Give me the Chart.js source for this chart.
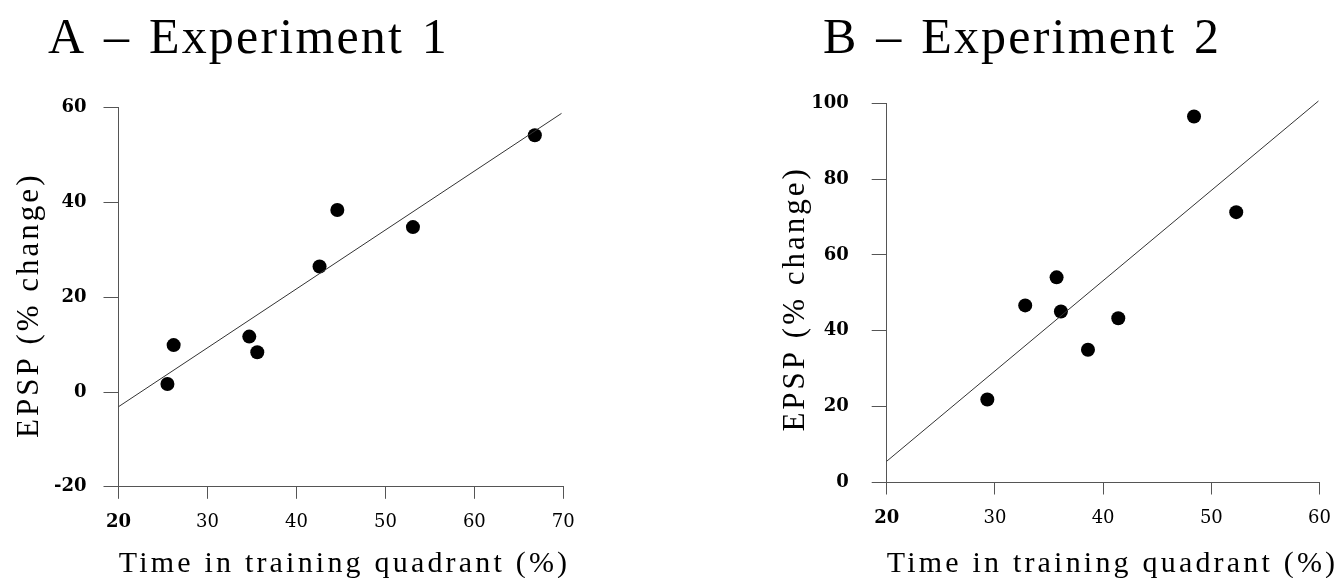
<!DOCTYPE html>
<html>
<head>
<meta charset="utf-8">
<script src="https://cdn.jsdelivr.net/npm/chart.js@4.4.1/dist/chart.umd.min.js"></script>
<style>
  body { margin: 0; background: #fff; }
  .panel { position: absolute; top: 0; width: 672px; height: 578px; }
  #panelA { left: 0; }
  #panelB { left: 672px; }
</style>
</head>
<body>
<div class="panel" id="panelA"><canvas id="chartA"></canvas></div>
<div class="panel" id="panelB"><canvas id="chartB"></canvas></div>
<script>
// Experiment 1 - time in training quadrant (%) vs EPSP (% change)
const timeA = [25.5, 26.2, 34.7, 35.6, 42.6, 44.6, 53.1, 66.8];
const epspA = [1.7, 9.9, 11.7, 8.4, 26.5, 38.4, 34.8, 54.2];
const fitXA = [20, 69.8];
const fitYA = [-3.1, 58.8];

// Experiment 2
const timeB = [29.3, 32.8, 35.7, 36.1, 38.6, 41.4, 48.4, 52.3];
const epspB = [21.9, 46.7, 54.1, 45.1, 35.0, 43.3, 96.5, 71.3];
const fitXB = [20, 59.9];
const fitYB = [5.6, 100.6];

const xLabel = "Time in training quadrant (%)";
const yLabel = "EPSP (% change)";

const serif = '"Liberation Serif", "Times New Roman", serif';
const axisColor = "#555";

function toPoints(xs, ys) {
    return xs.map(function(x, i) { return { x: x, y: ys[i] }; });
}

// Titles are drawn by hand so letter spacing can match the scan
const panelText = {
    id: "panelText",
    afterDraw: function(chart, args, o) {
        const ctx = chart.ctx;
        const area = chart.chartArea;
        ctx.save();
        ctx.fillStyle = "#000";
        ctx.textBaseline = "alphabetic";

        // panel title
        ctx.font = "50px " + serif;
        ctx.letterSpacing = "2.2px";
        ctx.wordSpacing = "3px";
        ctx.textAlign = "left";
        ctx.fillText(o.title, o.titleX, 53);

        // x axis title
        ctx.font = "30px " + serif;
        ctx.letterSpacing = "3.2px";
        ctx.wordSpacing = "0px";
        ctx.textAlign = "center";
        ctx.fillText(xLabel, o.xTitleX, 572);

        // y axis title, rotated
        ctx.translate(o.yTitleX, (area.top + area.bottom) / 2 + o.yTitleShift);
        ctx.rotate(-Math.PI / 2);
        ctx.font = "31px " + serif;
        ctx.letterSpacing = "3px";
        ctx.fillText(yLabel, 0, 0);
        ctx.restore();
    }
};

function makeChart(id, cfg) {
    const ctx = document.getElementById(id).getContext("2d");
    return new Chart(ctx, {
        type: "scatter",
        data: {
            datasets: [
                {
                    type: "line",
                    data: toPoints(cfg.fitX, cfg.fitY),
                    borderColor: "#333",
                    borderWidth: 1,
                    pointRadius: 0,
                    clip: false,
                },
                {
                    data: toPoints(cfg.xs, cfg.ys),
                    backgroundColor: "#000",
                    borderWidth: 0,
                    pointRadius: 7,
                },
            ],
        },
        options: {
            responsive: true,
            maintainAspectRatio: false,
            animation: false,
            layout: { padding: { left: 0, top: cfg.top, right: cfg.right, bottom: 0 } },
            plugins: {
                legend: { display: false },
                tooltip: { enabled: false },
                panelText: cfg.text,
            },
            scales: {
                x: {
                    min: cfg.xMin, max: cfg.xMax,
                    ticks: {
                        stepSize: 10,
                        color: "#000",
                        padding: 13,
                        font: function(c) {
                            // the first label is printed heavier in the original
                            const first = c.tick && c.tick.value === cfg.xMin;
                            return { family: "DejaVu Serif", size: 18, weight: first ? "bold" : "normal" };
                        },
                    },
                    grid: { drawOnChartArea: false, drawTicks: true, tickLength: 12, color: axisColor },
                    border: { display: true, color: axisColor, width: 1 },
                    afterFit: function(scale) { scale.height = cfg.xAxisH; },
                },
                y: {
                    min: cfg.yMin, max: cfg.yMax,
                    ticks: {
                        stepSize: 20,
                        color: "#000",
                        padding: cfg.yPad,
                        font: { family: "DejaVu Serif", size: 18, weight: "bold" },
                    },
                    grid: { drawOnChartArea: false, drawTicks: true, tickLength: 15, color: axisColor },
                    border: { display: true, color: axisColor, width: 1 },
                    afterFit: function(scale) { scale.width = cfg.yAxisW; },
                },
            },
        },
        plugins: [panelText],
    });
}

makeChart("chartA", {
    xs: timeA, ys: epspA, fitX: fitXA, fitY: fitYA,
    xMin: 20, xMax: 70, yMin: -20, yMax: 60,
    top: 107.7, right: 108.7, yAxisW: 118.5, xAxisH: 91.2, yPad: 17,
    text: { title: "A – Experiment 1", titleX: 48, xTitleX: 344.5, yTitleX: 38, yTitleShift: 8 },
});

makeChart("chartB", {
    xs: timeB, ys: epspB, fitX: fitXB, fitY: fitYB,
    xMin: 20, xMax: 60, yMin: 0, yMax: 100,
    top: 103.3, right: 14.7, yAxisW: 214.7, xAxisH: 95.5, yPad: 23,
    text: { title: "B – Experiment 2", titleX: 151, xTitleX: 440.5, yTitleX: 132, yTitleShift: 6 },
});
</script>
</body>
</html>
